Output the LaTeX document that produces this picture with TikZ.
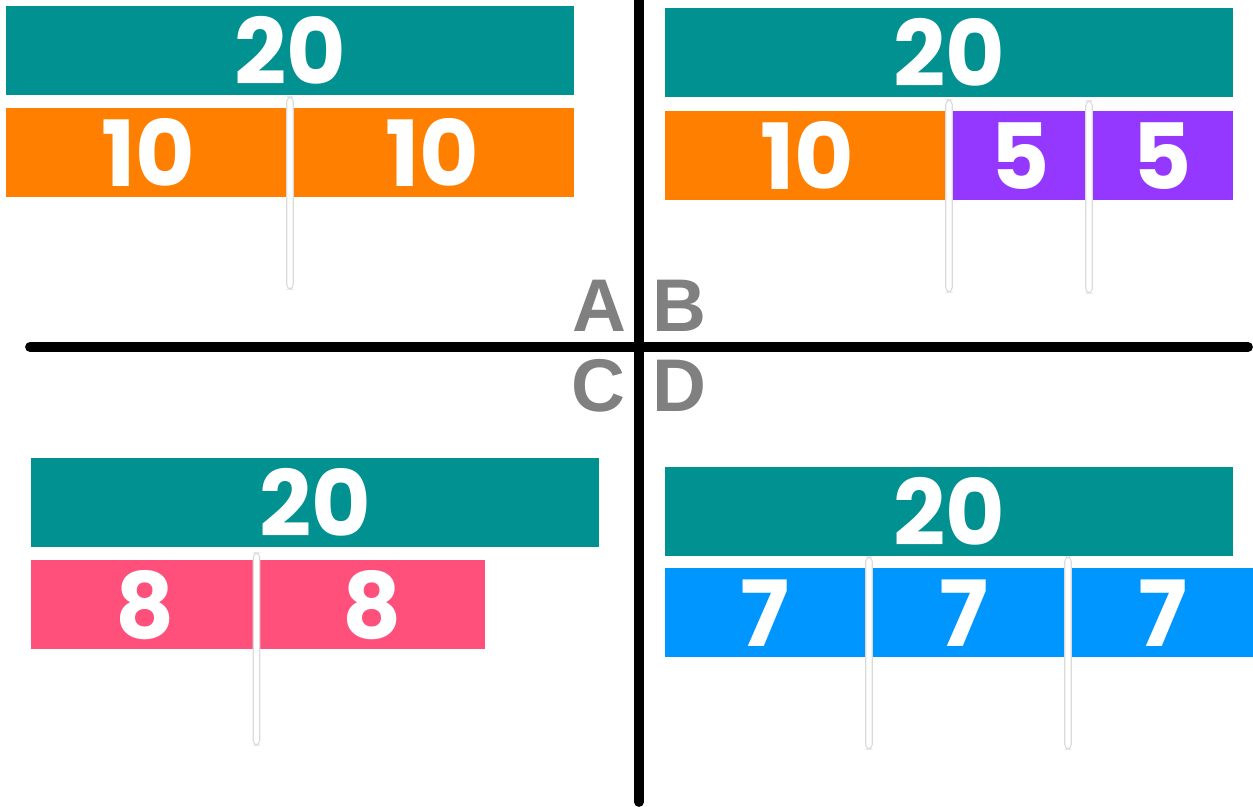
\documentclass[tikz,border=0pt]{standalone}
\usepackage{fontspec}
\setmainfont{Liberation Sans}
\newfontfamily\numfont{Poppins}
\usetikzlibrary{positioning}
\definecolor{barteal}{RGB}{0,145,144}
\definecolor{barorange}{RGB}{255,127,0}
\definecolor{barpurple}{RGB}{148,56,255}
\definecolor{barpink}{RGB}{255,79,123}
\definecolor{barblue}{RGB}{0,150,255}
\definecolor{labelgray}{RGB}{128,128,128}
\tikzset{
  bar/.style={anchor=north west, inner sep=0pt, minimum height=1.78cm,
              text=white, font=\numfont\bfseries\fontsize{52}{52}\selectfont},
  whole/.style={bar, fill=barteal, minimum width=11.36cm},
  divider/.style={draw=black!14, fill=white, line width=0.6pt, rounded corners=2.5pt,
                  minimum width=0.13cm, minimum height=3.84cm, inner sep=0pt},
  quadlabel/.style={text=labelgray, font=\bfseries\fontsize{42.5}{42.5}\selectfont, inner sep=0pt},
  axis/.style={line width=5.6pt, line cap=round},
}
\begin{document}
\begin{tikzpicture}[x=0.02cm, y=-0.02cm]
  \useasboundingbox (0,0) rectangle (1253,807);
  \clip (0,0) rectangle (1253,807);
  % axes
  \coordinate (top) at (639,-10);
  \coordinate (bottom) at (639,802);
  \coordinate (left) at (30,347);
  \coordinate (right) at (1248,347);
  \draw[axis] (top) -- (bottom);
  \draw[axis] (left) -- (right);
  \node[quadlabel] (labA) at (599,306) {A};
  \node[quadlabel] (labB) at (679,306) {B};
  \node[quadlabel] (labC) at (598,386) {C};
  \node[quadlabel] (labD) at (679,386) {D};
  % A: 10 + 10
  \node[whole] (A20) at (6,6) {20};
  \node[bar, fill=barorange, minimum width=5.68cm] (A10a) at (6,108) {10};
  \node[bar, fill=barorange, minimum width=5.68cm] (A10b) at (290,108) {10};
  \node[divider] (Adiv) at (290,193) {};
  % B: 10 + 5 + 5
  \node[whole] (B20) at (665,8) {20};
  \node[bar, fill=barorange, minimum width=5.68cm] (B10) at (665,111) {10};
  \node[bar, fill=barpurple, minimum width=2.84cm] (B5a) at (949,111) {5};
  \node[bar, fill=barpurple, minimum width=2.84cm] (B5b) at (1091,111) {5};
  \node[divider] (Bdiva) at (949,196) {};
  \node[divider] (Bdivb) at (1089,197) {};
  % C: 8 + 8
  \node[whole] (C20) at (31,458) {20};
  \node[bar, fill=barpink, minimum width=4.54cm] (C8a) at (31,560) {8};
  \node[bar, fill=barpink, minimum width=4.54cm] (C8b) at (258,560) {8};
  \node[divider] (Cdiv) at (256.5,649) {};
  % D: 7 + 7 + 7
  \node[whole] (D20) at (665,467) {20};
  \node[bar, fill=barblue, minimum width=3.98cm] (D7a) at (665,568) {7};
  \node[bar, fill=barblue, minimum width=3.98cm] (D7b) at (864,568) {7};
  \node[bar, fill=barblue, minimum width=3.98cm] (D7c) at (1063,568) {7};
  \node[divider] (Ddiva) at (869,653) {};
  \node[divider] (Ddivb) at (1068,653) {};
\end{tikzpicture}
\end{document}
